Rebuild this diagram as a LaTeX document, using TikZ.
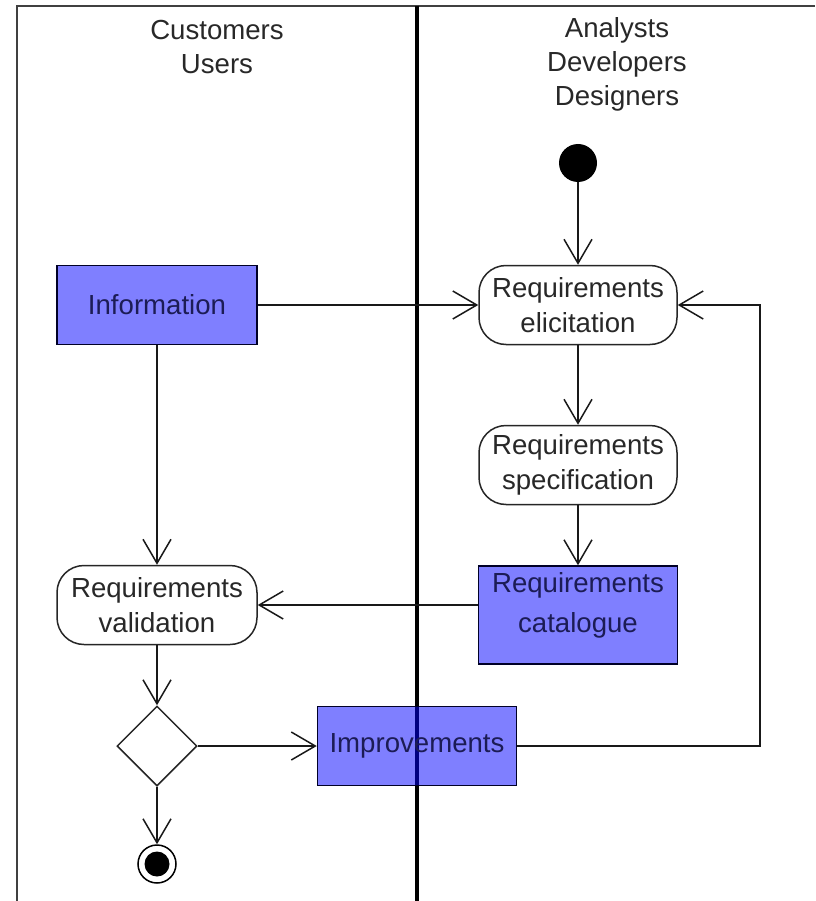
\documentclass[tikz,border=0pt]{standalone}
\usepackage{fontspec}
\setmainfont{Liberation Sans}
\usetikzlibrary{arrows.meta,shapes.geometric}
\definecolor{lanegrey}{RGB}{64,64,64}
\definecolor{navytext}{RGB}{28,28,85}
\definecolor{darktext}{RGB}{40,40,40}
\tikzset{
  lbl/.style={font=\fontsize{27.6}{34}\selectfont, text=darktext, align=center},
  roundbox/.style={draw=black!85, line width=1.5pt, fill=white, rounded corners=27pt,
    minimum width=198pt, minimum height=79pt, inner sep=0pt, align=center,
    font=\fontsize{27.6}{35}\selectfont, text=darktext},
  bluebox/.style={draw=black!85!blue, line width=1.5pt, fill=blue, fill opacity=0.5,
    text opacity=1, minimum width=199pt, minimum height=79pt, inner sep=0pt, align=center,
    font=\fontsize{27.6}{34}\selectfont, text=navytext},
  bluetext/.style={align=center, font=\fontsize{27.6}{40}\selectfont, text=navytext},
  arr/.style={line width=1.5pt, draw=black!90, -{Straight Barb[length=24pt, width=28pt, line width=1.5pt]}},
}
\begin{document}
\begin{tikzpicture}[x=1pt,y=-1pt]
\useasboundingbox (0,0) rectangle (815,901);
% swimlane lines
\coordinate (tl) at (17,6);
\coordinate (tr) at (815,6);
\coordinate (bl) at (17,901);
\coordinate (mt) at (417,6);
\coordinate (mb) at (417,901);
\draw[lanegrey, line width=2.2pt] (bl) -- (tl) -- (tr);
\draw[black, line width=3.5pt] (mt) -- (mb);
% headers
\node[lbl] (h1) at (217,47) {Customers\\Users};
\node[lbl] (h2) at (617,64) {Analysts\\Developers\\Designers};
% nodes
\node[circle, fill=black, minimum size=38pt, inner sep=0pt] (init) at (578,163) {};
\node[roundbox] (elic) at (578,305) {Requirements\\elicitation};
\node[bluebox, minimum width=200pt] (info) at (157,305) {Information};
\node[roundbox] (spec) at (578,465) {Requirements\\specification};
\node[bluebox, minimum height=98pt] (cat) at (578,615) {};
\node[bluetext] (catl) at (578,605) {Requirements\\catalogue};
\node[roundbox, minimum width=200pt] (val) at (157,605) {Requirements\\validation};
\node[diamond, draw=black!85, line width=1.5pt, fill=white, minimum width=80pt, minimum height=80pt, inner sep=0pt] (dec) at (157,746) {};
\node[bluebox] (imp) at (417,746) {Improvements};
\node[circle, draw=black, line width=1.5pt, fill=white, minimum size=38pt, inner sep=0pt] (fin) at (157,864) {};
\node[circle, fill=black, minimum size=25pt, inner sep=0pt] (finin) at (157,864) {};
% connectors
\draw[arr] (init) -- (elic);
\draw[arr] (elic) -- (spec);
\draw[arr] (spec) -- (cat);
\draw[arr] (info.east) -- (elic.west);
\draw[arr] (info.south) -- (val.north);
\draw[arr] (cat.west |- val.east) -- (val.east);
\draw[arr] (val.south) -- (dec.north);
\draw[arr] (dec.east) -- (imp.west);
\draw[arr] (dec.south) -- (fin.north);
\coordinate (lb) at (760,746);
\coordinate (lt) at (760,305);
\draw[arr] (imp.east) -- (lb) -- (lt) -- (elic.east);
\end{tikzpicture}
\end{document}
